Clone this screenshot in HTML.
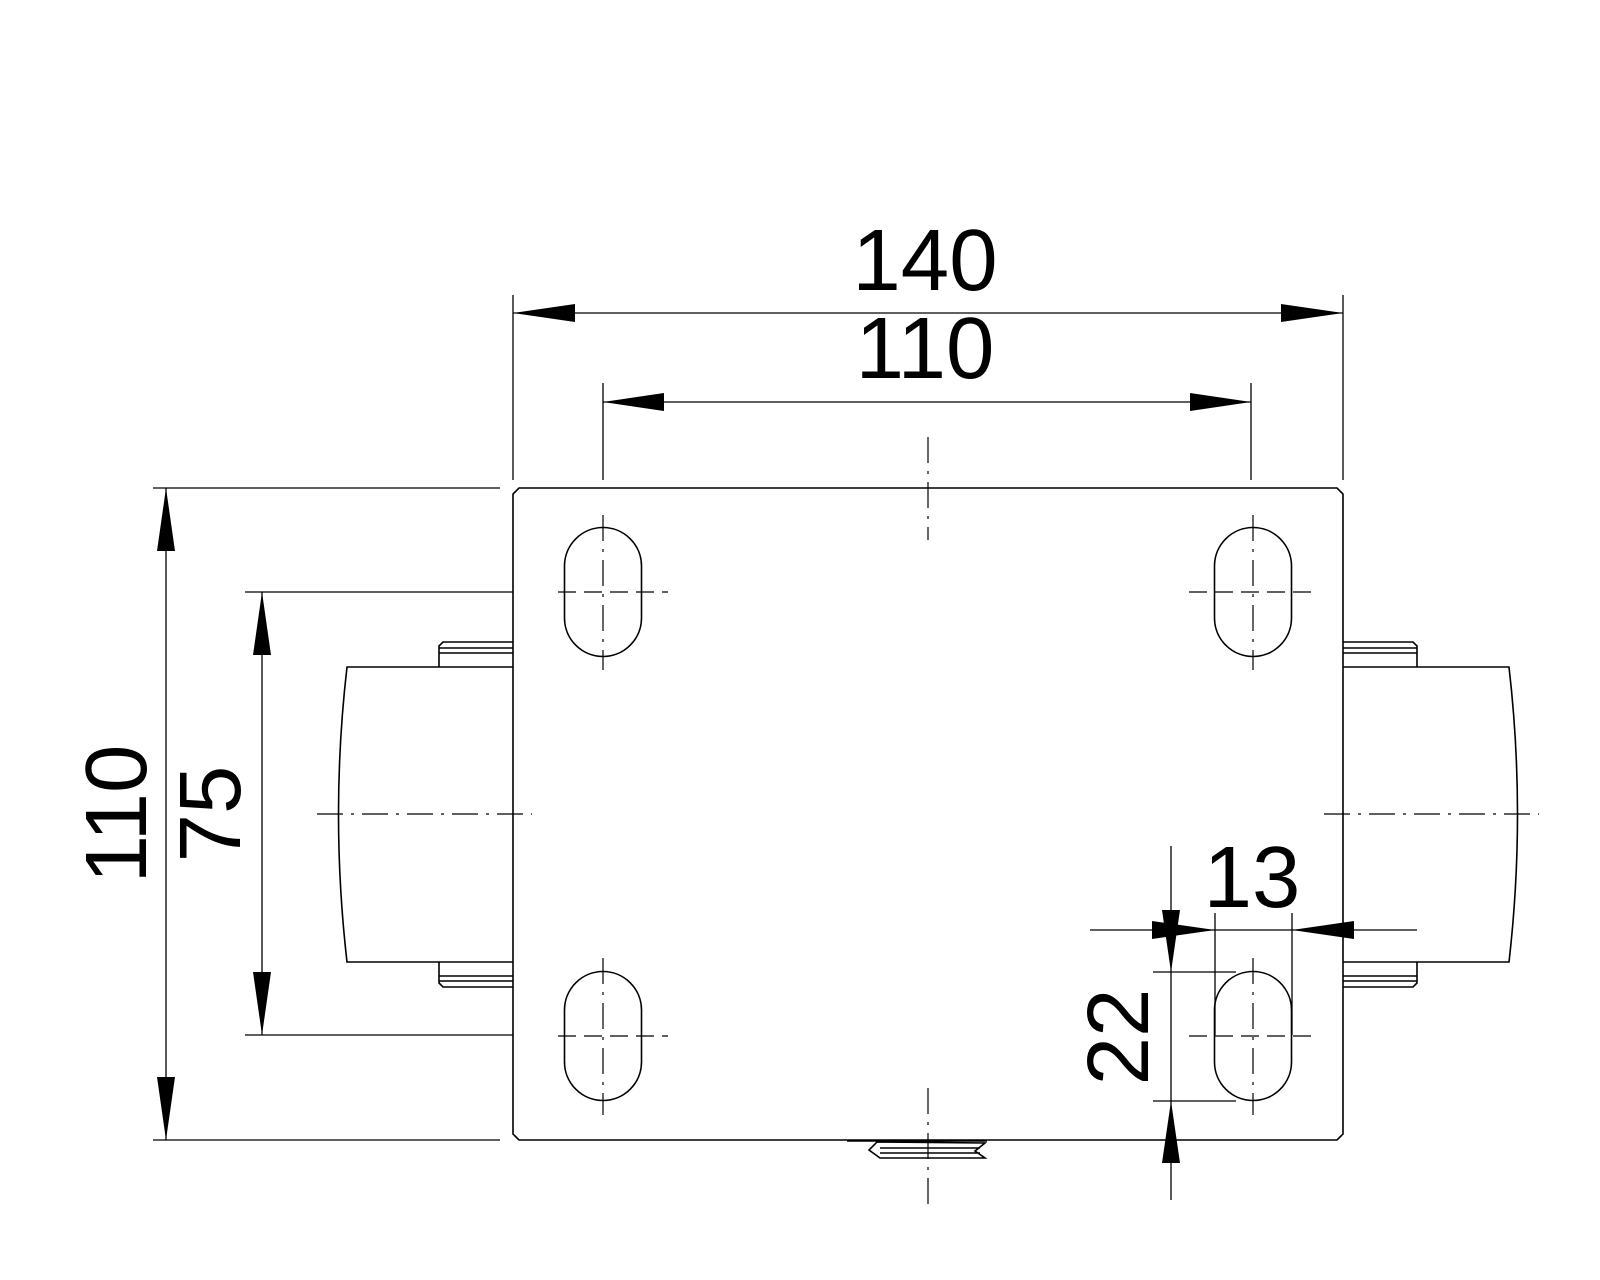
<!DOCTYPE html>
<html><head><meta charset="utf-8"><style>html,body{margin:0;padding:0;background:#fff}svg{display:block}</style></head><body>
<svg width="1600" height="1280" viewBox="0 0 1600 1280" xmlns="http://www.w3.org/2000/svg" font-family="Liberation Sans, sans-serif">
<rect width="1600" height="1280" fill="#fff"/>
<g stroke="#000" stroke-width="1.6" fill="none">
<!-- plate -->
<path d="M519 488 H1337 L1343 494 V1134 L1337 1140 H519 L513 1134 V494 Z"/>
<!-- left wheel -->
<path d="M513 667 H347 Q330 814 347 962 H513"/>
<path d="M439 667 V646 L443 642 H513 M439 648 H513 M439 653 H513"/>
<path d="M439 962 V983 L443 987 H513 M439 976 H513 M439 981 H513"/>
<!-- right wheel -->
<path d="M1343 667 H1509 Q1526 814 1509 962 H1343"/>
<path d="M1417 667 V646 L1413 642 H1343 M1417 648 H1343 M1417 653 H1343"/>
<path d="M1417 962 V983 L1413 987 H1343 M1417 976 H1343 M1417 981 H1343"/>
<!-- slots -->
<rect x="564.5" y="527.5" width="77" height="129" rx="38.5"/>
<rect x="1214.5" y="527.5" width="77" height="129" rx="38.5"/>
<rect x="564.5" y="971.5" width="77" height="129" rx="38.5"/>
<rect x="1214.5" y="971.5" width="77" height="129" rx="38.5"/>
<!-- bottom detail -->
<path d="M847 1141 H987 M877 1142 L869 1150 L880 1158 H985 L975 1151 L985 1143 Z M880 1148 H980 M880 1153 H980"/>
</g>
<g stroke="#000" stroke-width="1.3" fill="none">
<!-- dimension lines & extensions -->
<path d="M513 295 V480 M1343 295 V480 M513 313 H1343"/>
<path d="M603 383 V480 M1251 383 V480 M603 402 H1251"/>
<path d="M153 488 H500 M166 488 V1140 M153 1140 H500"/>
<path d="M245 592 H513 M262 592 V1035 M245 1035 H513"/>
<path d="M1090 930 H1417 M1215 913 V1035 M1292 913 V1035"/>
<path d="M1171 846 V1200 M1153 972 H1236 M1153 1101 H1236"/>
</g>
<g fill="#000">
<polygon points="513,313 575,304 575,322"/>
<polygon points="1343,313 1281,304 1281,322"/>
<polygon points="603,402 664,393 664,411"/>
<polygon points="1251,402 1190,393 1190,411"/>
<polygon points="166,488 157,551 175,551"/>
<polygon points="166,1140 157,1077 175,1077"/>
<polygon points="262,592 253,655 271,655"/>
<polygon points="262,1035 253,972 271,972"/>
<polygon points="1215,930 1152,921 1152,939"/>
<polygon points="1292,930 1354,921 1354,939"/>
<polygon points="1171,972 1162,910 1180,910"/>
<polygon points="1171,1101 1162,1163 1180,1163"/>
</g>
<g stroke="#000" stroke-width="1.2" fill="none" stroke-dasharray="26 8 3 8">
<path d="M928 437 V540 M928 1088 V1212"/>
<path d="M317 814 H532 M1324 814 H1539"/>
<path d="M603 515 V670 M1253 515 V670 M603 958 V1115 M1253 958 V1115"/>
</g>
<g stroke="#000" stroke-width="1.2" fill="none" stroke-dasharray="18 8">
<path d="M558 592 H668 M1189 592 H1318 M558 1036 H668 M1189 1036 H1318"/>
</g>
<g font-size="87" fill="#000" text-anchor="middle">
<text x="925" y="290">140</text>
<text x="925" y="378">110</text>
<text x="1252" y="907">13</text>
<text transform="translate(146 814) rotate(-90)">110</text>
<text transform="translate(240 814) rotate(-90)">75</text>
<text transform="translate(1148 1037) rotate(-90)">22</text>
</g>
</svg>
</body></html>
